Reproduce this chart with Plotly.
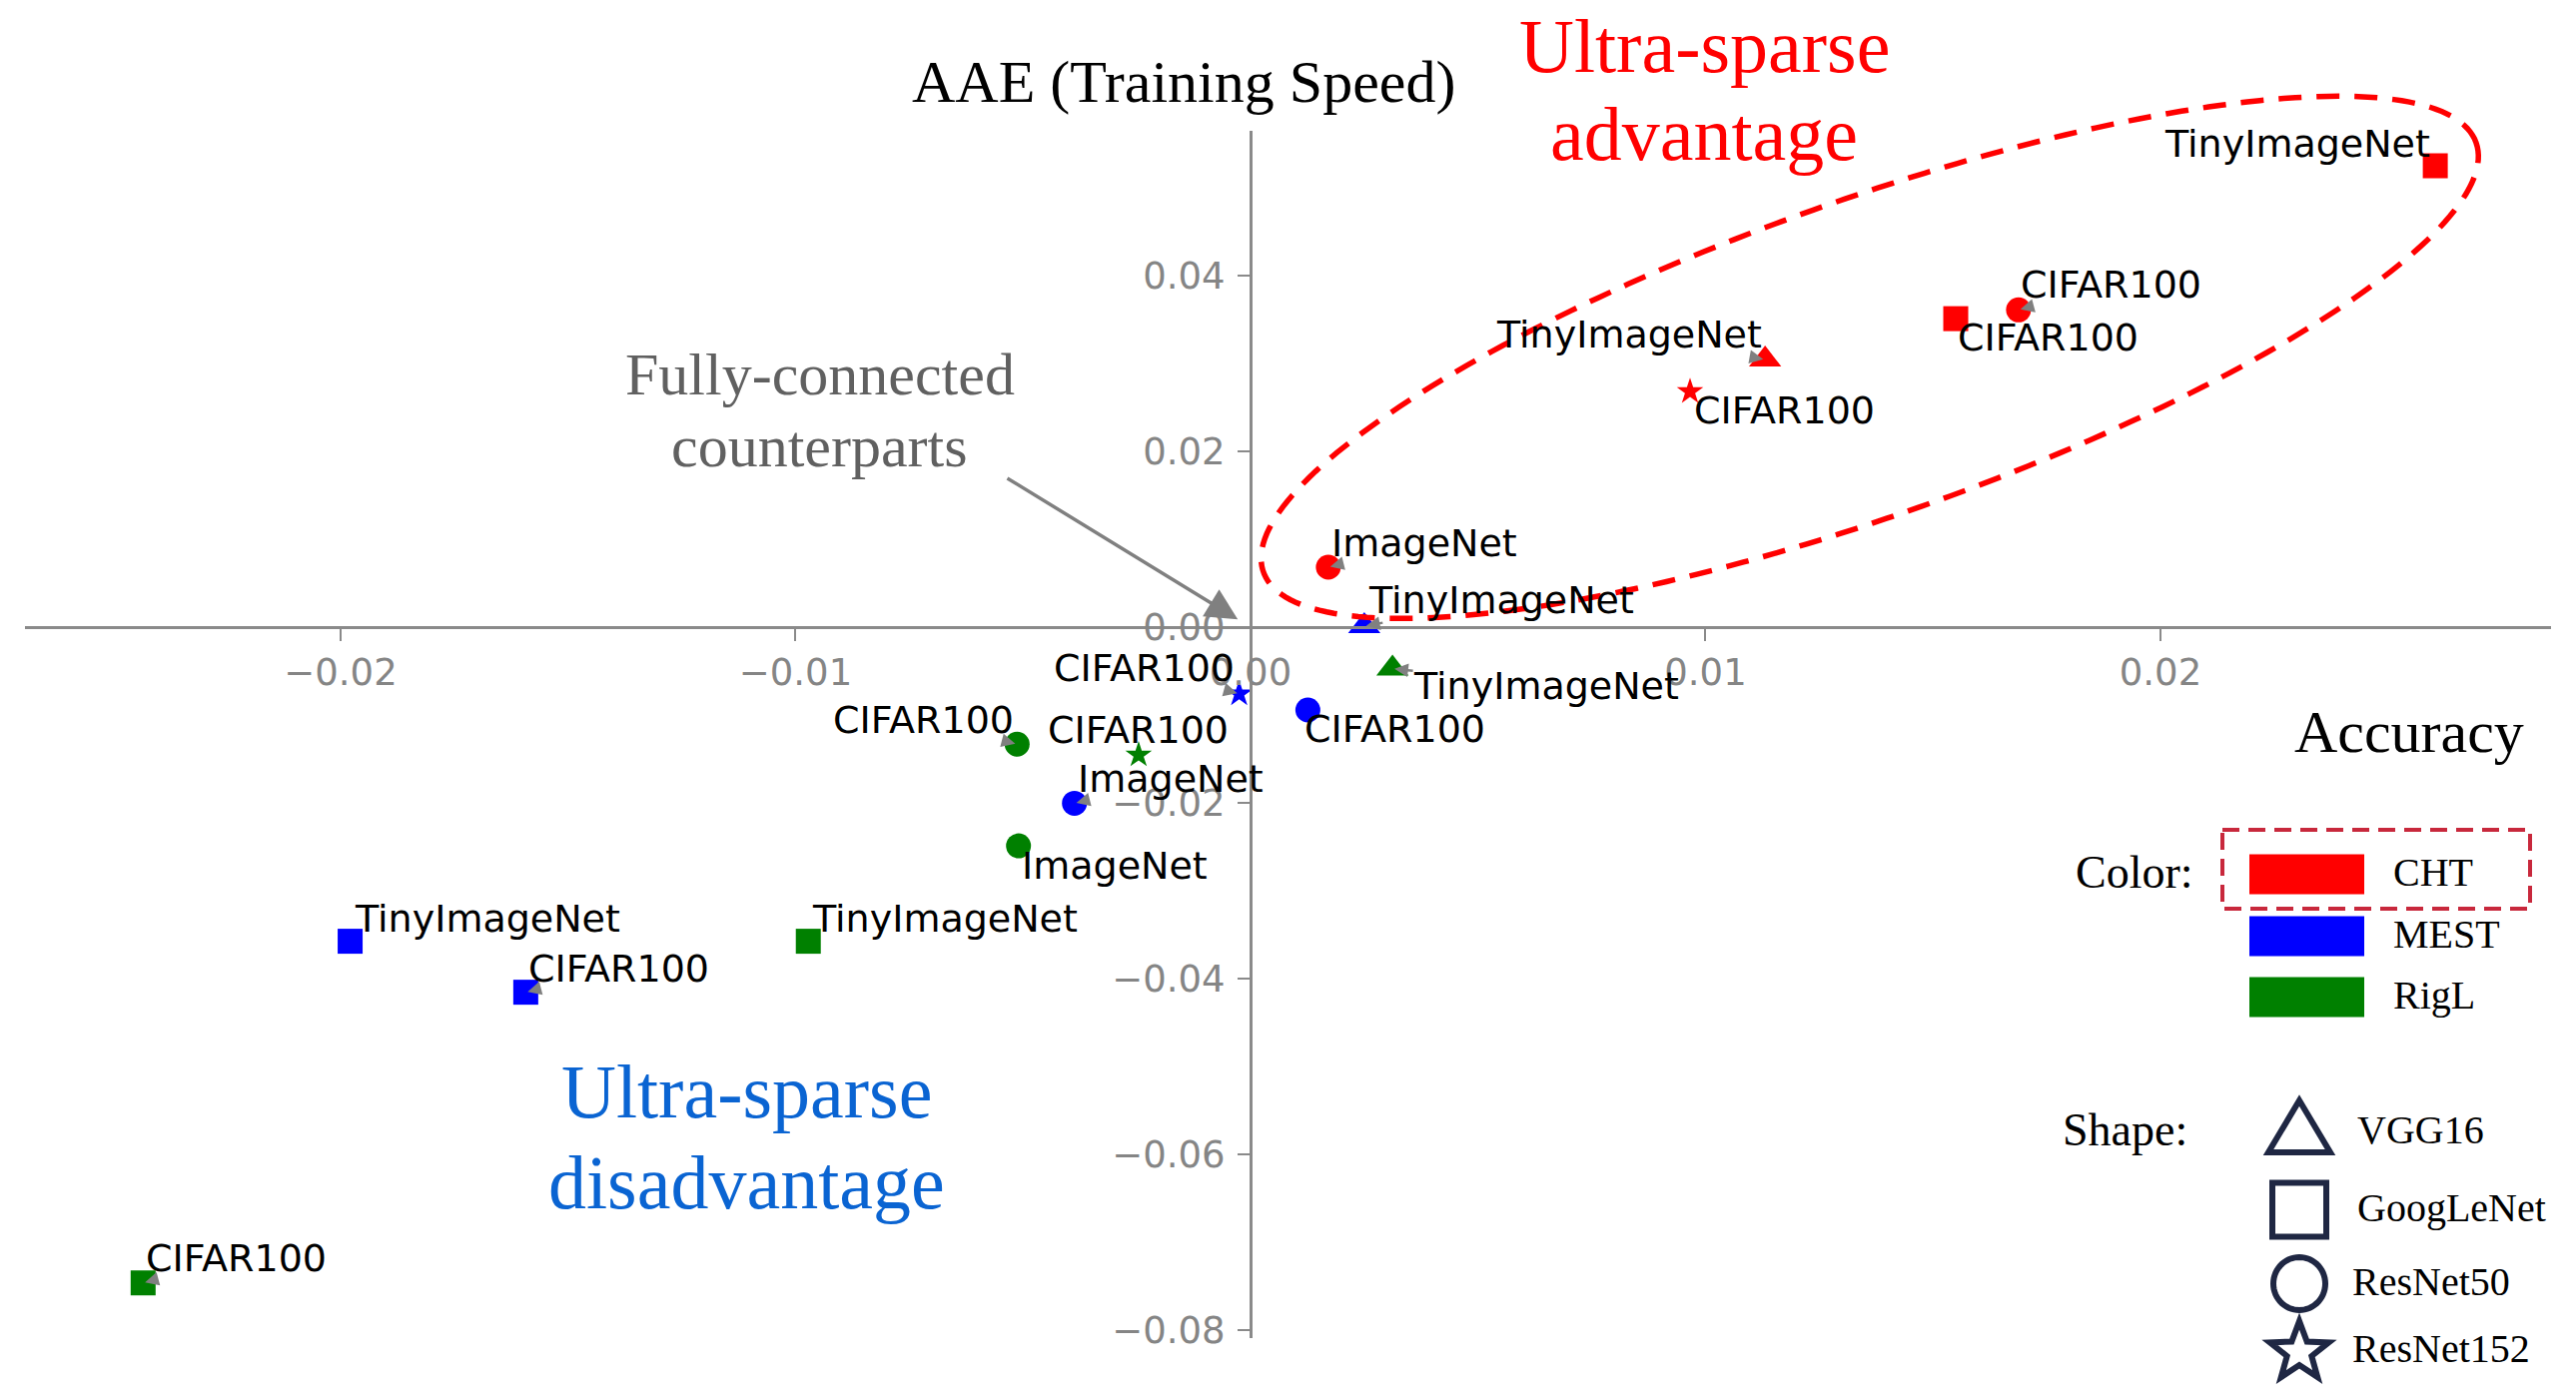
import numpy as np
import plotly.graph_objects as go

# ---------------- data ----------------
methods = ["CHT"] * 6 + ["MEST"] * 6 + ["RigL"] * 6
models = ["GoogLeNet", "ResNet50", "GoogLeNet", "VGG16", "ResNet152", "ResNet50",
          "VGG16", "ResNet152", "ResNet50", "ResNet50", "GoogLeNet", "GoogLeNet",
          "VGG16", "ResNet152", "ResNet50", "ResNet50", "GoogLeNet", "GoogLeNet"]
datasets = ["TinyImageNet", "CIFAR100", "CIFAR100", "TinyImageNet", "CIFAR100", "ImageNet",
            "TinyImageNet", "CIFAR100", "CIFAR100", "ImageNet", "TinyImageNet", "CIFAR100",
            "TinyImageNet", "CIFAR100", "CIFAR100", "ImageNet", "TinyImageNet", "CIFAR100"]
aae_accuracy = [0.02604, 0.01688, 0.01550, 0.01131, 0.00966, 0.00171,
                0.00250, -0.00025, 0.00126, -0.00387, -0.01979, -0.01593,
                0.00312, -0.00246, -0.00513, -0.00510, -0.00972, -0.02434]
aae_speed = [0.05250, 0.03610, 0.03510, 0.03045, 0.02680, 0.00682,
             0.00010, -0.00760, -0.00943, -0.02005, -0.03575, -0.04155,
             -0.00472, -0.01455, -0.01332, -0.02490, -0.03575, -0.07463]

method_names = ["CHT", "MEST", "RigL"]
method_colors = {"CHT": "#ff0000", "MEST": "#0000ff", "RigL": "#008000"}
model_names = ["VGG16", "GoogLeNet", "ResNet50", "ResNet152"]
model_symbols = {"VGG16": "triangle-up", "GoogLeNet": "square", "ResNet50": "circle", "ResNet152": "star"}
model_sizes = {"VGG16": 28, "GoogLeNet": 25, "ResNet50": 25, "ResNet152": 20}

x_tickvals = [-0.02, -0.01, 0.0, 0.01, 0.02]
x_ticktext = ["\u22120.02", "\u22120.01", "0.00", "0.01", "0.02"]
y_tickvals = [-0.08, -0.06, -0.04, -0.02, 0.0, 0.02, 0.04]
y_ticktext = ["\u22120.08", "\u22120.06", "\u22120.04", "\u22120.02", "0.00", "0.02", "0.04"]

# label placement offsets (pixels, text centre relative to point)
label_offsets = [(-138, -22), (93, -25), (92, 19), (-136, -25), (94, 19), (96, -24),
                 (137, -26), (-95, -26), (87, 19), (96, -24), (137, -23), (93, -24),
                 (154, 17), (0, -25), (-94, -24), (96, 20), (137, -23), (93, -25)]

# ---------------- layout geometry ----------------
BODY = 8                      # browser default body margin
W, H = 2579 - 2 * BODY, 1399 - 2 * BODY
PLOT_L, PLOT_T, PW, PH = 25, 131, 2529, 1209   # plot area in page pixels
ML, MT = PLOT_L - BODY, PLOT_T - BODY
MR, MB = W - ML - PW, H - MT - PH
x_range = [-0.026937, 0.028584]
y_range = [-0.080909, 0.056477]
sx = PW / (x_range[1] - x_range[0])
sy = PH / (y_range[1] - y_range[0])

SERIF = "Liberation Serif, Times New Roman, serif"
SANS = "DejaVu Sans, sans-serif"


def pp(px, py):
    """page pixel -> paper"""
    return (px - PLOT_L) / PW, (PLOT_T + PH - py) / PH


fig = go.Figure()

for m in method_names:
    idx = [i for i, mm in enumerate(methods) if mm == m]
    fig.add_trace(go.Scatter(
        x=[aae_accuracy[i] for i in idx],
        y=[aae_speed[i] for i in idx],
        mode="markers",
        name=m,
        marker=dict(color=method_colors[m], opacity=1,
                    symbol=[model_symbols[models[i]] for i in idx],
                    size=[model_sizes[models[i]] for i in idx],
                    line=dict(width=0)),
        showlegend=False,
        cliponaxis=False,
    ))

annotations = []
for i in range(len(methods)):
    ax, ay = label_offsets[i]
    annotations.append(dict(
        x=aae_accuracy[i], y=aae_speed[i], xref="x", yref="y",
        text=datasets[i], showarrow=True, ax=ax, ay=ay,
        arrowhead=2, arrowsize=1.1, arrowwidth=2.5, arrowcolor="gray", standoff=2, borderpad=0,
        font=dict(family=SANS, size=38, color="black"),
    ))

# arrow to the origin (fully-connected counterparts)
annotations.append(dict(x=0, y=0, xref="x", yref="y", text="", showarrow=True,
                        ax=-245, ay=-150, arrowhead=2, arrowsize=1.8, arrowwidth=3.5,
                        arrowcolor="gray", standoff=15))


def txt(px, py, text, size, color="black", family=SERIF, xanchor="center"):
    x, y = pp(px, py)
    annotations.append(dict(x=x, y=y, xref="paper", yref="paper", text=text, showarrow=False,
                            xanchor=xanchor, yanchor="middle",
                            font=dict(family=family, size=size, color=color)))


txt(1185, 82, "AAE (Training Speed)", 60)
txt(1706, 46, "Ultra-sparse", 76, "#ff0000")
txt(1706, 134, "advantage", 76, "#ff0000")
txt(747, 1093, "Ultra-sparse", 76, "#0a64d2")
txt(747, 1184, "disadvantage", 76, "#0a64d2")
txt(821, 375, "Fully-connected", 60, "#606060")
txt(820, 447, "counterparts", 60, "#606060")

# legend
txt(2412, 733, "Accuracy", 60)
txt(2198, 873, "Color:", 46, xanchor="right")
txt(2192, 1131, "Shape:", 46, xanchor="right")
legend_rows_y = [875.5, 937.5, 998.5]
shapes = []
for m, ycen in zip(method_names, legend_rows_y):
    x0, y0 = pp(2252, ycen - 20)
    x1, y1 = pp(2367, ycen + 20)
    shapes.append(dict(type="rect", xref="paper", yref="paper", x0=x0, y0=y0, x1=x1, y1=y1,
                       fillcolor=method_colors[m], line=dict(width=0)))
    txt(2394, ycen - 2, m, 40, xanchor="left")

bx0, by0 = pp(2225, 831)
bx1, by1 = pp(2533, 910)
shapes.append(dict(type="rect", xref="paper", yref="paper", x0=bx0, y0=by0, x1=bx1, y1=by1,
                   line=dict(color="#c8283c", width=4, dash="17px,9px")))

NAVY = "#1f2743"
shape_rows_y = [1130, 1211.5, 1285.5, 1352]
for mdl, ycen in zip(model_names, shape_rows_y):
    cx = 2302
    if mdl == "VGG16":
        pts = [(cx, ycen - 28), (cx - 31, ycen + 24), (cx + 31, ycen + 24)]
    elif mdl == "GoogLeNet":
        pts = [(cx - 27, ycen - 27), (cx + 27, ycen - 27), (cx + 27, ycen + 27), (cx - 27, ycen + 27)]
    elif mdl == "ResNet50":
        t = np.linspace(0, 2 * np.pi, 60, endpoint=False)
        pts = list(zip(cx + 26 * np.cos(t), ycen + 26.5 * np.sin(t)))
    else:
        pts = []
        for k in range(10):
            r = 31 if k % 2 == 0 else 13
            ang = -np.pi / 2 + k * np.pi / 5
            pts.append((cx + r * np.cos(ang), ycen + 2 + r * np.sin(ang)))
    path = "M " + " L ".join("{:.5f},{:.5f}".format(*pp(px, py)) for px, py in pts) + " Z"
    shapes.append(dict(type="path", xref="paper", yref="paper", path=path,
                       line=dict(color=NAVY, width=6), fillcolor="rgba(0,0,0,0)"))
    lx = 2358 if mdl in ("VGG16", "GoogLeNet") else 2353
    txt(lx, ycen - 2 + (3 if mdl == "VGG16" else 0), mdl, 40, xanchor="left")

# dashed ellipse around the ultra-sparse advantage region (paper refs so it is not clipped)
ell_cx, ell_cy = 0.01361, 0.03070   # data coords
ell_a, ell_b, ell_theta = 644, 158, np.deg2rad(19.5)  # pixels
t = np.linspace(0, 2 * np.pi, 240)
dxp = ell_a * np.cos(t) * np.cos(ell_theta) - ell_b * np.sin(t) * np.sin(ell_theta)
dyp = ell_a * np.cos(t) * np.sin(ell_theta) + ell_b * np.sin(t) * np.cos(ell_theta)
ex = (ell_cx - x_range[0]) / (x_range[1] - x_range[0]) + dxp / PW
ey = (ell_cy - y_range[0]) / (y_range[1] - y_range[0]) + dyp / PH
epath = "M " + " L ".join("{:.6f},{:.6f}".format(a, b) for a, b in zip(ex, ey)) + " Z"
shapes.append(dict(type="path", xref="paper", yref="paper", path=epath,
                   line=dict(color="#ff0000", width=5.5, dash="23px,15px")))

pos_x_axis = (0 - y_range[0]) / (y_range[1] - y_range[0])
pos_y_axis = (0 - x_range[0]) / (x_range[1] - x_range[0])

fig.update_layout(
    width=W, height=H, autosize=False,
    margin=dict(l=ML, r=MR, t=MT, b=MB, pad=0),
    paper_bgcolor="white", plot_bgcolor="white",
    showlegend=False,
    xaxis=dict(range=x_range, anchor="free", position=pos_x_axis, showgrid=False, zeroline=False,
               showline=True, linecolor="#8a8a8a", linewidth=3,
               ticks="outside", ticklen=12, tickwidth=2, tickcolor="#8a8a8a",
               tickvals=x_tickvals, ticktext=x_ticktext, ticklabelstandoff=0,
               tickfont=dict(family=SANS, size=37, color="#858585")),
    yaxis=dict(range=y_range, anchor="free", position=pos_y_axis, showgrid=False, zeroline=False,
               showline=True, linecolor="#8a8a8a", linewidth=3,
               ticks="outside", ticklen=12, tickwidth=2, tickcolor="#8a8a8a",
               tickvals=y_tickvals, ticktext=y_ticktext, ticklabelstandoff=5,
               tickfont=dict(family=SANS, size=37, color="#858585")),
    annotations=annotations,
    shapes=shapes,
)

fig.write_html("out.html")
